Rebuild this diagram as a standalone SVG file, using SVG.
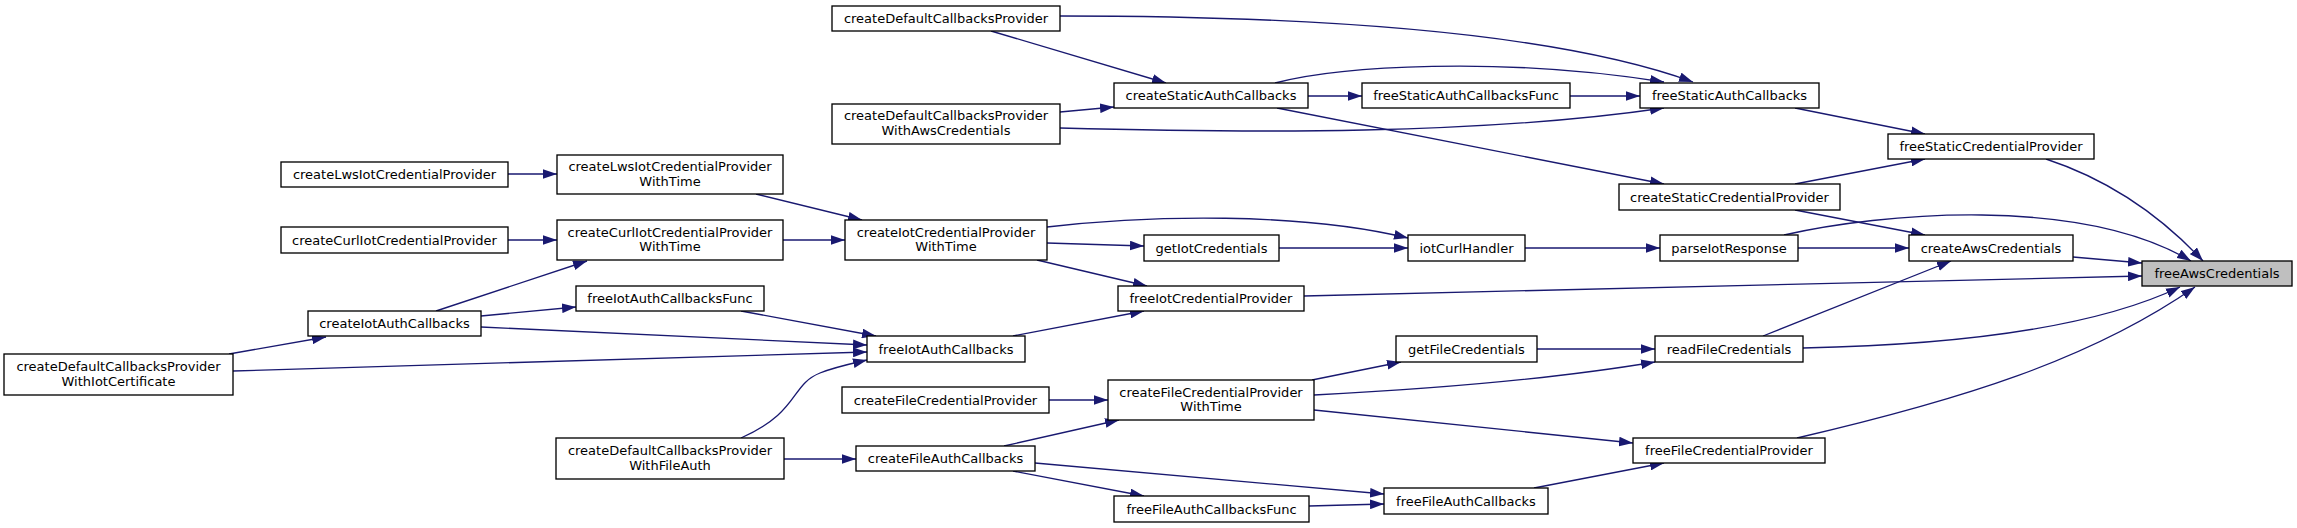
<svg xmlns="http://www.w3.org/2000/svg" width="2297" height="528" viewBox="0 0 2297 528">
<defs>
<marker id="ah" markerUnits="userSpaceOnUse" markerWidth="14" markerHeight="10" viewBox="0 0 13 9" refX="13" refY="4.5" orient="auto">
<path d="M0,0 L13,4.5 L0,9 z" fill="#191970"/>
</marker>
<style>
.n rect{fill:#fff;stroke:#000;stroke-width:1.33}
.f rect{fill:#bfbfbf}
.n text{font-family:"DejaVu Sans",sans-serif;font-size:13px;fill:#000;text-anchor:middle}
#edges path{fill:none;stroke:#191970;stroke-width:1.33;marker-end:url(#ah)}
</style>
</defs>
<rect width="2297" height="528" fill="#fff"/>
<g id="edges">
<path d="M1060,16 C1300,16 1550,30 1693,82"/>
<path d="M991,31 L1166,83"/>
<path d="M1060,112 L1114,107"/>
<path d="M1060,128 C1250,133 1480,135 1664,108"/>
<path d="M1308,96 L1362,96"/>
<path d="M1275,83 C1340,66 1500,56 1664,82"/>
<path d="M1277,108 L1664,184"/>
<path d="M1570,96 L1640,96"/>
<path d="M1795,108 L1925,134"/>
<path d="M1795,184 L1925,159"/>
<path d="M1795,210 L1925,235"/>
<path d="M2046,159 C2110,180 2160,215 2203,261"/>
<path d="M1798,248 L1909,248"/>
<path d="M1784,235 C1880,213 2080,195 2191,261"/>
<path d="M2073,257 L2142,263"/>
<path d="M1525,248 L1660,248"/>
<path d="M1279,248 L1408,248"/>
<path d="M1047,227 C1150,215 1300,212 1408,238"/>
<path d="M1047,243 L1144,246"/>
<path d="M1037,260 L1147,286"/>
<path d="M756,194 L862,220"/>
<path d="M783,240 L845,240"/>
<path d="M508,174 L557,174"/>
<path d="M508,240 L557,240"/>
<path d="M436,311 L587,261"/>
<path d="M481,316 L576,307"/>
<path d="M481,327 L867,345"/>
<path d="M229,354 L326,337"/>
<path d="M233,371 L867,352"/>
<path d="M741,311 L876,336"/>
<path d="M741,438 C800,412 790,385 820,373 C835,367 850,364 867,360"/>
<path d="M1013,336 L1144,311"/>
<path d="M1304,296 L2142,276"/>
<path d="M784,459 L856,459"/>
<path d="M1049,400 L1108,400"/>
<path d="M1004,446 L1119,420"/>
<path d="M1035,463 L1384,494"/>
<path d="M1013,471 L1144,496"/>
<path d="M1309,506 L1384,504"/>
<path d="M1312,380 L1401,362"/>
<path d="M1314,395 C1450,388 1560,378 1655,362"/>
<path d="M1314,410 L1633,443"/>
<path d="M1537,349 L1655,349"/>
<path d="M1534,488 L1664,463"/>
<path d="M1763,336 L1951,261"/>
<path d="M1803,348 C1950,345 2090,330 2180,287"/>
<path d="M1797,438 C1960,400 2090,360 2195,287"/>
</g>
<g id="n1" class="n"><rect x="832" y="6" width="228" height="25"/><text x="946" y="23">createDefaultCallbacksProvider</text></g>
<g id="n2" class="n"><rect x="832" y="104" width="228" height="40"/><text x="946" y="120">createDefaultCallbacksProvider</text><text x="946" y="134.5">WithAwsCredentials</text></g>
<g id="n3" class="n"><rect x="281" y="162" width="227" height="25"/><text x="394.5" y="179">createLwsIotCredentialProvider</text></g>
<g id="n4" class="n"><rect x="281" y="227" width="227" height="26"/><text x="394.5" y="244.5">createCurlIotCredentialProvider</text></g>
<g id="n5" class="n"><rect x="557" y="155" width="226" height="39"/><text x="670" y="171">createLwsIotCredentialProvider</text><text x="670" y="185.5">WithTime</text></g>
<g id="n6" class="n"><rect x="557" y="220" width="226" height="40"/><text x="670" y="236.5">createCurlIotCredentialProvider</text><text x="670" y="251">WithTime</text></g>
<g id="n7" class="n"><rect x="845" y="220" width="202" height="40"/><text x="946" y="236.5">createIotCredentialProvider</text><text x="946" y="251">WithTime</text></g>
<g id="n8" class="n"><rect x="1114" y="83" width="194" height="25"/><text x="1211" y="100">createStaticAuthCallbacks</text></g>
<g id="n9" class="n"><rect x="1362" y="83" width="208" height="25"/><text x="1466" y="100">freeStaticAuthCallbacksFunc</text></g>
<g id="n10" class="n"><rect x="1640" y="83" width="179" height="25"/><text x="1729.5" y="100">freeStaticAuthCallbacks</text></g>
<g id="n11" class="n"><rect x="1888" y="134" width="206" height="25"/><text x="1991" y="151">freeStaticCredentialProvider</text></g>
<g id="n12" class="n"><rect x="1619" y="184" width="221" height="26"/><text x="1729.5" y="201.5">createStaticCredentialProvider</text></g>
<g id="n13" class="n"><rect x="1144" y="235" width="135" height="26"/><text x="1211.5" y="252.5">getIotCredentials</text></g>
<g id="n14" class="n"><rect x="1408" y="235" width="117" height="26"/><text x="1466.5" y="252.5">iotCurlHandler</text></g>
<g id="n15" class="n"><rect x="1660" y="235" width="138" height="26"/><text x="1729" y="252.5">parseIotResponse</text></g>
<g id="n16" class="n"><rect x="1909" y="235" width="164" height="26"/><text x="1991" y="252.5">createAwsCredentials</text></g>
<g id="n17" class="n f"><rect x="2142" y="261" width="150" height="25"/><text x="2217" y="278">freeAwsCredentials</text></g>
<g id="n18" class="n"><rect x="308" y="311" width="173" height="25"/><text x="394.5" y="328">createIotAuthCallbacks</text></g>
<g id="n19" class="n"><rect x="4" y="354" width="229" height="41"/><text x="118.5" y="371">createDefaultCallbacksProvider</text><text x="118.5" y="385.5">WithIotCertificate</text></g>
<g id="n20" class="n"><rect x="576" y="286" width="188" height="25"/><text x="670" y="303">freeIotAuthCallbacksFunc</text></g>
<g id="n21" class="n"><rect x="867" y="336" width="158" height="26"/><text x="946" y="353.5">freeIotAuthCallbacks</text></g>
<g id="n22" class="n"><rect x="1118" y="286" width="186" height="25"/><text x="1211" y="303">freeIotCredentialProvider</text></g>
<g id="n23" class="n"><rect x="1396" y="336" width="141" height="26"/><text x="1466.5" y="353.5">getFileCredentials</text></g>
<g id="n24" class="n"><rect x="1655" y="336" width="148" height="26"/><text x="1729" y="353.5">readFileCredentials</text></g>
<g id="n25" class="n"><rect x="842" y="387" width="207" height="26"/><text x="945.5" y="404.5">createFileCredentialProvider</text></g>
<g id="n26" class="n"><rect x="1108" y="380" width="206" height="40"/><text x="1211" y="396.5">createFileCredentialProvider</text><text x="1211" y="411">WithTime</text></g>
<g id="n27" class="n"><rect x="556" y="438" width="228" height="41"/><text x="670" y="455">createDefaultCallbacksProvider</text><text x="670" y="469.5">WithFileAuth</text></g>
<g id="n28" class="n"><rect x="856" y="446" width="179" height="25"/><text x="945.5" y="463">createFileAuthCallbacks</text></g>
<g id="n29" class="n"><rect x="1114" y="496" width="195" height="26"/><text x="1211.5" y="513.5">freeFileAuthCallbacksFunc</text></g>
<g id="n30" class="n"><rect x="1384" y="488" width="164" height="26"/><text x="1466" y="505.5">freeFileAuthCallbacks</text></g>
<g id="n31" class="n"><rect x="1633" y="438" width="192" height="25"/><text x="1729" y="455">freeFileCredentialProvider</text></g>
</svg>
